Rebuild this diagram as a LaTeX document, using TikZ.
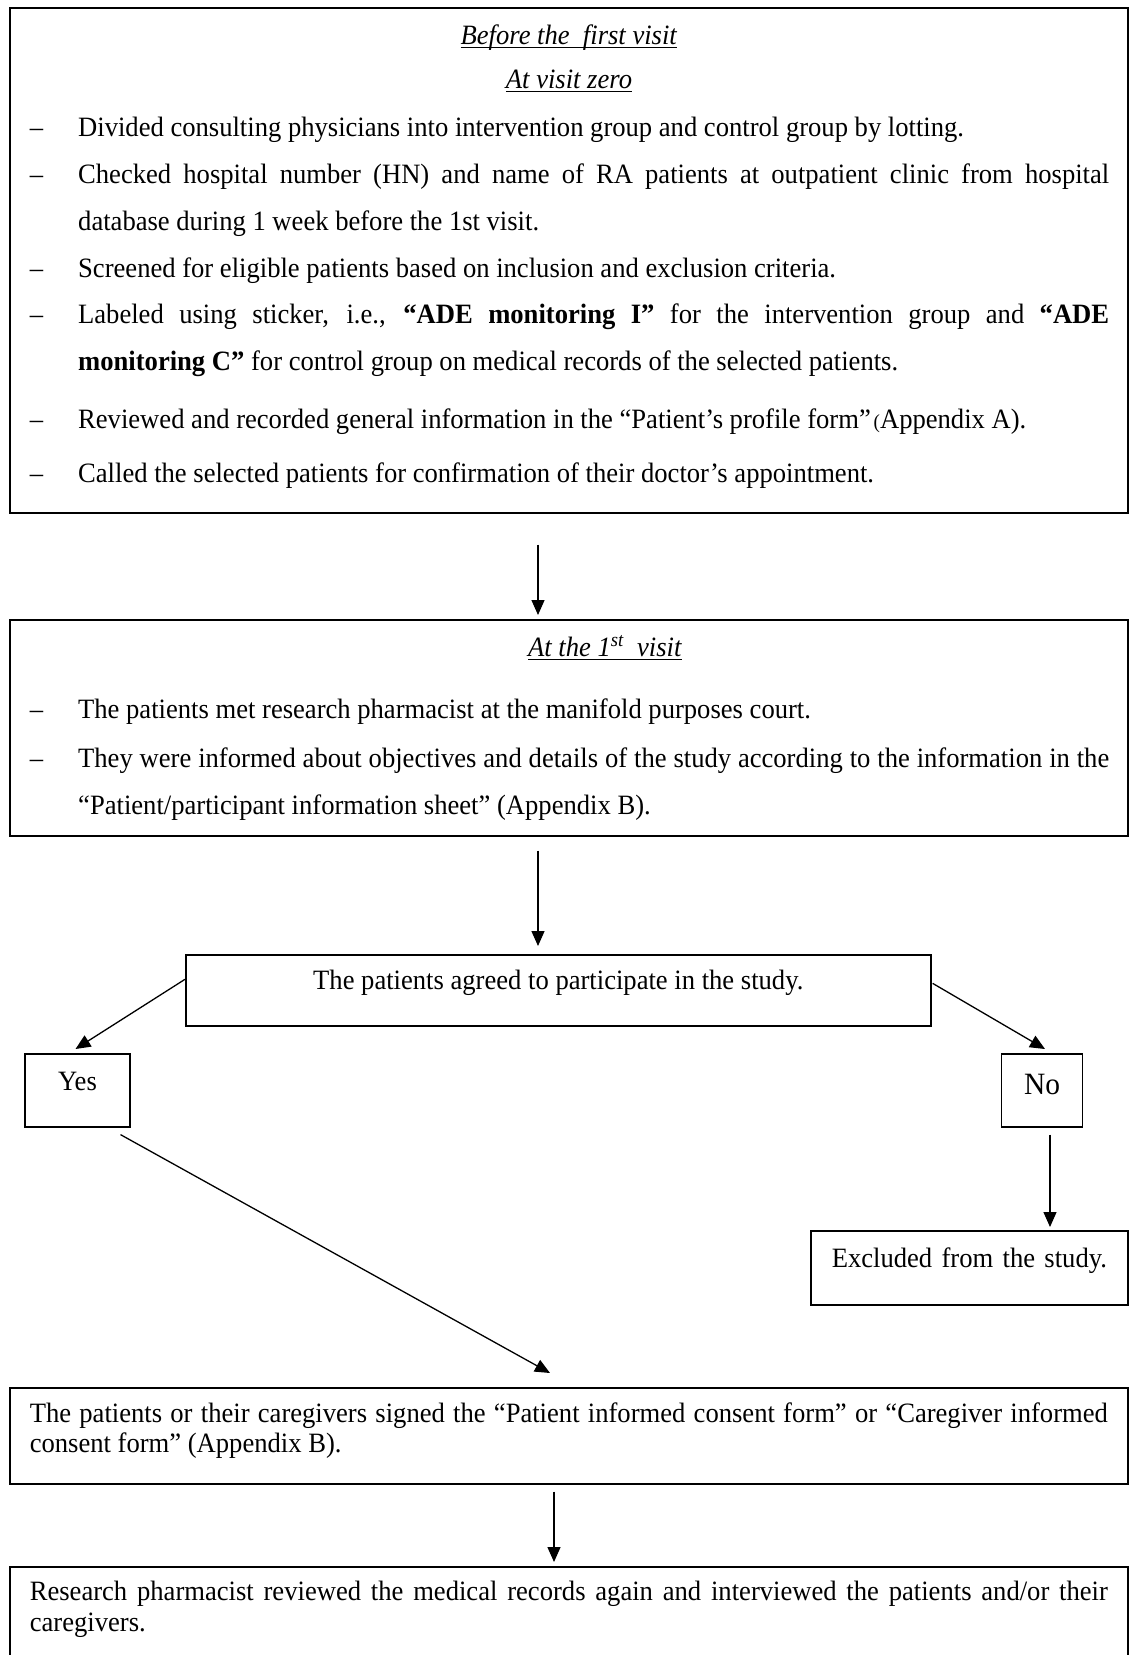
\documentclass[tikz,border=0pt]{standalone}
\usepackage{fontspec}
\setmainfont{Liberation Serif}[FakeStretch=0.95]
\usetikzlibrary{arrows.meta,calc}
\hyphenpenalty=10000
\exhyphenpenalty=10000
\newcommand{\bodyfont}{\fontsize{28}{47}\selectfont}
\newcommand{\dashmark}{\llap{–\hspace{35pt}}}
\newsavebox{\ulbox}
\newcommand{\uln}[1]{\sbox{\ulbox}{#1}\rlap{\rule[-4pt]{\wd\ulbox}{1.3pt}}\usebox{\ulbox}}
\begin{document}
\begin{tikzpicture}[x=1pt,y=-1pt,
  box/.style={draw=black,line width=1.6pt,rectangle,inner sep=0pt},
  txt/.style={inner sep=0pt,font=\bodyfont},
  para/.style={txt,anchor=base west,text width=1031pt,align=justify},
  title/.style={txt,anchor=base},
  arr/.style={line width=1.3pt,-{Triangle[length=15pt,width=13pt]}}
]
\useasboundingbox[fill=white] (0,0) rectangle (1128,1655);

% ---------- box 1 ----------
\node[box,anchor=north west,minimum width=1118pt,minimum height=505pt] (b1) at (9,7) {};
\node[title] (t1) at (569,44) {\uln{\textit{Before the\ \ first visit}}};
\node[title] (t2) at (569,88) {\uln{\textit{At visit zero}}};
\node[para] (p1) at (78,136) {\dashmark Divided consulting physicians into intervention group and control group by lotting.};
\node[para] (p2) at (78,183) {\dashmark Checked hospital number (HN) and name of RA patients at outpatient clinic from hospital\linebreak database during 1 week before the 1st visit.};
\node[para] (p3) at (78,277) {\dashmark Screened for eligible patients based on inclusion and exclusion criteria.};
\node[para] (p4) at (78,323) {\dashmark Labeled using sticker, i.e., \textbf{“ADE monitoring I”} for the intervention group and \textbf{“ADE}\linebreak \textbf{monitoring C”} for control group on medical records of the selected patients.};
\node[para] (p5) at (78,428) {\dashmark Reviewed and recorded general information in the “Patient’s profile form”\hspace{3pt}{\fontsize{20}{20}\selectfont(}Appendix A).};
\node[para] (p6) at (78,482) {\dashmark Called the selected patients for confirmation of their doctor’s appointment.};

% ---------- box 2 ----------
\node[box,anchor=north west,minimum width=1118pt,minimum height=216pt] (b2) at (9,619) {};
\node[title] (t3) at (605,656) {\uln{\textit{At the 1\textsuperscript{st}\ \ visit}}};
\node[para] (p7) at (78,718) {\dashmark The patients met research pharmacist at the manifold purposes court.};
\node[para] (p8) at (78,767) {\dashmark They were informed about objectives and details of the study according to the information in the\linebreak “Patient/participant information sheet” (Appendix B).};

% ---------- decision ----------
\node[box,txt,anchor=north west,minimum width=745pt,text height=35pt,text depth=36pt] (agree) at (185,954) {The patients agreed to participate in the study.};
\node[box,txt,anchor=north,minimum width=105pt,text height=37pt,text depth=36pt] (yes) at (77.5,1053) {Yes};
\node[box,txt,font=\fontsize{31}{36}\selectfont,anchor=north,minimum width=81pt,text height=41pt,text depth=32pt] (no) at (1042,1053) {No};
\node[box,txt,anchor=north west,inner xsep=21pt,text width=275pt,align=left,text height=37pt,text depth=37pt] (excl) at (810,1230) {\mbox{Excluded from the study.}};

% ---------- lower boxes ----------
\node[box,txt,font=\fontsize{28}{30}\selectfont,anchor=north west,inner xsep=20pt,text width=1078pt,align=justify,text height=35pt,text depth=61pt] (consent) at (9,1387) {The patients or their caregivers signed the “Patient informed consent form” or “Caregiver informed\linebreak consent form” (Appendix B).};
\node[box,txt,font=\fontsize{28}{31}\selectfont,anchor=north west,inner xsep=20pt,text width=1078pt,align=justify,text height=34pt,text depth=120pt] (final) at (9,1566) {Research pharmacist reviewed the medical records again and interviewed the patients and/or their\linebreak caregivers.};

% ---------- connectors ----------
\coordinate (ax) at (538,0);
\coordinate (nx) at (1050,0);
\coordinate (cx) at (554,0);
\draw[arr] ($(b1.south -| ax)+(0,31)$) -- ($(b2.north -| ax)+(0,-4)$);
\draw[arr] ($(b2.south -| ax)+(0,14)$) -- ($(agree.north -| ax)+(0,-8)$);
\draw[arr] ($(agree.west)+(0,-11)$) -- ($(yes.north)+(-2,-4)$);
\draw[arr] ($(agree.east)+(1,-7)$) -- ($(no.north)+(3,-4)$);
\draw[arr] ($(yes.south)+(43,7)$) -- ($(consent.north west)+(541,-14)$);
\draw[arr] ($(no.south -| nx)+(0,7)$) -- ($(excl.north -| nx)+(0,-3)$);
\draw[arr] ($(consent.south -| cx)+(0,7)$) -- ($(final.north -| cx)+(0,-4)$);
\end{tikzpicture}
\end{document}
